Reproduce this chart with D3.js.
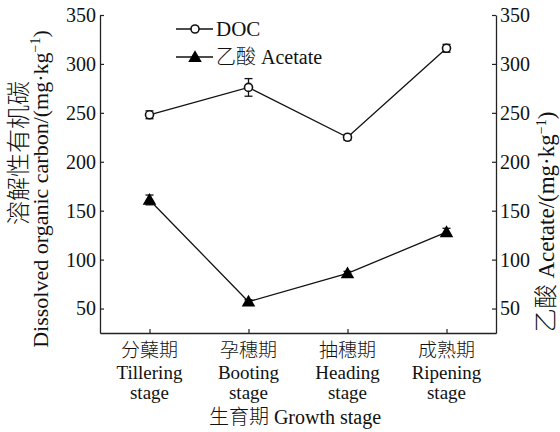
<!DOCTYPE html>
<html>
<head>
<meta charset="utf-8">
<script src="https://cdn.jsdelivr.net/npm/d3@7"></script>
<style>
  body { margin: 0; background: #fff; }
  text, tspan { font-family: "Liberation Serif", "Times New Roman", serif; fill: #111; }
  .cjk { font-family: "Noto Sans CJK SC", sans-serif; font-weight: 300; }
</style>
</head>
<body>
<div id="chart"></div>
<script>
// data
var stagesCn = ["分蘖期", "孕穗期", "抽穗期", "成熟期"];
var stagesEn = ["Tillering", "Booting", "Heading", "Ripening"];
var docValues = [248, 276, 225, 316];
var docErrors = [4, 9, 3, 4];
var acetateValues = [161, 57, 86, 128];
var acetateErrors = [5, 2, 2, 4];
var yTicks = [50, 100, 150, 200, 250, 300, 350];

var svgWidth = 560, svgHeight = 432;
var margin = { top: 15, right: 64, bottom: 99, left: 100 };
var width = svgWidth - margin.left - margin.right;
var height = svgHeight - margin.top - margin.bottom;

var svg = d3.select("#chart").append("svg")
  .attr("width", svgWidth)
  .attr("height", svgHeight);

var g = svg.append("g")
  .attr("transform", `translate(${margin.left}, ${margin.top})`);

var x = d3.scalePoint().domain(d3.range(stagesEn.length)).range([0, width]).padding(0.5);
var y = d3.scaleLinear().domain([25, 350]).range([height, 0]);

// axes, ticks pointing inward
var leftAxis = d3.axisLeft(y).tickValues(yTicks).tickSizeInner(-4).tickSizeOuter(0).tickPadding(4);
var rightAxis = d3.axisRight(y).tickValues(yTicks).tickSizeInner(-4).tickSizeOuter(0).tickPadding(4);
var bottomAxis = d3.axisBottom(x).tickSizeInner(-4).tickSizeOuter(0).tickFormat("");

function styleAxis(sel) {
  sel.attr("font-family", null);
  sel.select(".domain").attr("stroke", "#222").attr("stroke-width", 1.3);
  sel.selectAll(".tick line").attr("stroke", "#222").attr("stroke-width", 1.2);
  sel.selectAll(".tick text").style("font-size", "20px");
}

g.append("g").call(leftAxis).call(styleAxis);
g.append("g").attr("transform", `translate(${width},0)`).call(rightAxis).call(styleAxis);
g.append("g").attr("transform", `translate(0,${height})`).call(bottomAxis).call(styleAxis);

// category labels
var cat = g.append("g").selectAll("text")
  .data(stagesEn)
  .enter().append("text")
  .attr("text-anchor", "middle")
  .style("font-size", "19px");
cat.append("tspan").attr("class", "cjk").attr("x", (d, i) => x(i)).attr("y", height + 24).text((d, i) => stagesCn[i]);
cat.append("tspan").attr("x", (d, i) => x(i)).attr("y", height + 46).text(d => d);
cat.append("tspan").attr("x", (d, i) => x(i)).attr("y", height + 66).text("stage");

// axis titles
var xt = svg.append("text")
  .attr("text-anchor", "middle").style("font-size", "20px")
  .attr("x", 295).attr("y", 424);
xt.append("tspan").attr("class", "cjk").text("生育期");
xt.append("tspan").text(" Growth stage");

svg.append("text")
  .attr("class", "cjk")
  .attr("text-anchor", "middle").style("font-size", "24px")
  .attr("transform", "translate(27,153) rotate(-90)")
  .text("溶解性有机碳");

var yl = svg.append("text")
  .attr("text-anchor", "middle").style("font-size", "22px")
  .attr("transform", "translate(48,189) rotate(-90)");
yl.append("tspan").text("Dissolved organic carbon/(mg·kg");
yl.append("tspan").style("font-size", "14px").attr("dy", -8).text("−1");
yl.append("tspan").attr("dy", 8).text(")");

var yr = svg.append("text")
  .attr("text-anchor", "middle").style("font-size", "23px")
  .attr("transform", "translate(554,222) rotate(-90)");
yr.append("tspan").attr("class", "cjk").style("font-size", "24px").text("乙酸");
yr.append("tspan").text(" Acetate/(mg·kg");
yr.append("tspan").style("font-size", "14px").attr("dy", -8).text("−1");
yr.append("tspan").attr("dy", 8).text(")");

// lines
var line = d3.line().x((d, i) => x(i)).y(d => y(d));

g.append("path").datum(docValues)
  .attr("fill", "none").attr("stroke", "#111").attr("stroke-width", 1.3)
  .attr("d", line);
g.append("path").datum(acetateValues)
  .attr("fill", "none").attr("stroke", "#111").attr("stroke-width", 1.3)
  .attr("d", line);

// error bars
function errorBars(values, errors) {
  var eb = g.append("g").selectAll("g").data(values).enter().append("g")
    .attr("stroke", "#111").attr("stroke-width", 1.3);
  eb.append("line")
    .attr("x1", (d, i) => x(i)).attr("x2", (d, i) => x(i))
    .attr("y1", (d, i) => y(d + errors[i])).attr("y2", (d, i) => y(d - errors[i]));
  eb.append("line")
    .attr("x1", (d, i) => x(i) - 4).attr("x2", (d, i) => x(i) + 4)
    .attr("y1", (d, i) => y(d + errors[i])).attr("y2", (d, i) => y(d + errors[i]));
  eb.append("line")
    .attr("x1", (d, i) => x(i) - 4).attr("x2", (d, i) => x(i) + 4)
    .attr("y1", (d, i) => y(d - errors[i])).attr("y2", (d, i) => y(d - errors[i]));
}
errorBars(docValues, docErrors);
errorBars(acetateValues, acetateErrors);

// markers
g.selectAll(".doc").data(docValues).enter().append("circle")
  .attr("class", "doc")
  .attr("cx", (d, i) => x(i)).attr("cy", d => y(d))
  .attr("r", 4).attr("fill", "#fff").attr("stroke", "#111").attr("stroke-width", 1.6);

var tri = d3.symbol().type(d3.symbolTriangle).size(80);
g.selectAll(".ace").data(acetateValues).enter().append("path")
  .attr("class", "ace")
  .attr("transform", (d, i) => `translate(${x(i)},${y(d) + 1})`)
  .attr("d", tri).attr("fill", "#000");

// legend
var legend = svg.append("g").attr("transform", "translate(176,29)");
legend.append("line").attr("x1", 0).attr("x2", 37).attr("y1", 0).attr("y2", 0)
  .attr("stroke", "#111").attr("stroke-width", 1.3);
legend.append("circle").attr("cx", 19).attr("cy", 0).attr("r", 4)
  .attr("fill", "#fff").attr("stroke", "#111").attr("stroke-width", 1.6);
legend.append("text").attr("x", 40).attr("y", 7).style("font-size", "21px").text("DOC");

legend.append("line").attr("x1", 0).attr("x2", 37).attr("y1", 28).attr("y2", 28)
  .attr("stroke", "#111").attr("stroke-width", 1.3);
legend.append("path").attr("transform", "translate(19,29)").attr("d", tri).attr("fill", "#000");
var lt = legend.append("text").attr("x", 40).attr("y", 35).style("font-size", "20px");
lt.append("tspan").attr("class", "cjk").text("乙酸");
lt.append("tspan").text(" Acetate");
</script>
</body>
</html>
